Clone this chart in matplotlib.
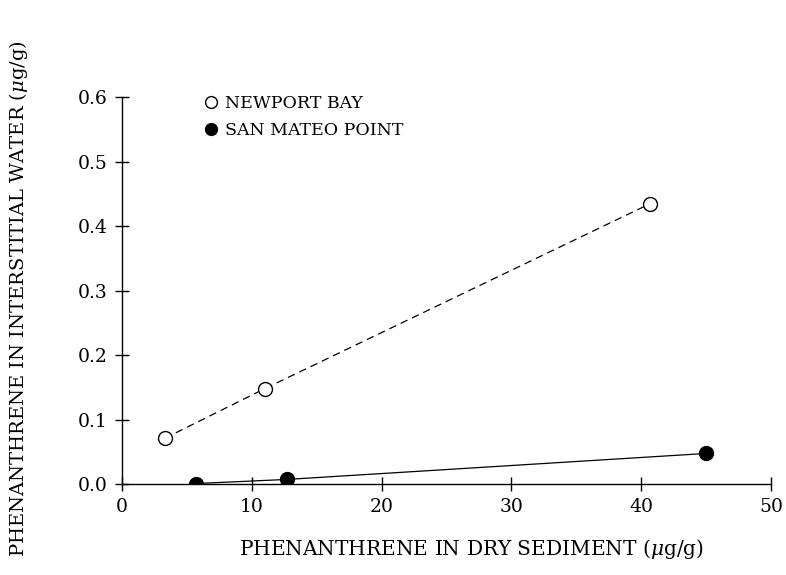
import matplotlib
matplotlib.use("Agg")
import matplotlib.pyplot as plt
from matplotlib.lines import Line2D

# phenanthrene: dry sediment (ug/g) vs interstitial water (ug/g)
newport_x = [3.3, 11.0, 40.7]
newport_y = [0.071, 0.148, 0.435]
sanmateo_x = [5.75, 12.7, 45.0]
sanmateo_y = [0.001, 0.0073, 0.0476]

x_ticks = [0, 10, 20, 30, 40, 50]
y_ticks = [0.0, 0.1, 0.2, 0.3, 0.4, 0.5, 0.6]

plt.rcParams['font.family'] = ['DejaVu Serif']
plt.rcParams['mathtext.fontset'] = 'dejavuserif'

fig = plt.figure(figsize=(7.86, 5.75), dpi=100)
ax = fig.add_axes([0.155, 0.158, 0.826, 0.673])

ax.plot(newport_x, newport_y, color='black', lw=0.9, ls=(0, (6, 4)),
        marker='o', ms=10, mfc='white', mec='black', mew=1.0)
ax.plot(sanmateo_x, sanmateo_y, color='black', lw=0.9, ls='-',
        marker='o', ms=10, mfc='black', mec='black')

ax.set_xlim(0, 50)
ax.set_ylim(0, 0.6)
ax.set_xticks(x_ticks)
ax.set_yticks(y_ticks)
ax.set_xticklabels([str(v) for v in x_ticks])
ax.set_yticklabels([f'{v:.1f}' for v in y_ticks])
ax.tick_params(direction='inout', length=10, width=1, labelsize=13.5, pad=5)

for side in ['top', 'right']:
    ax.spines[side].set_visible(False)
for side in ['left', 'bottom']:
    ax.spines[side].set_linewidth(1)

fig.text(0.60, 0.045, r'PHENANTHRENE IN DRY SEDIMENT ($\mu$g/g)',
         fontsize=14.5, ha='center', va='center')
fig.text(0.023, 0.48, r'PHENANTHRENE IN INTERSTITIAL WATER ($\mu$g/g)',
         fontsize=14, ha='center', va='center', rotation=90)

# legend shows markers only, no line segment
handles = [
    Line2D([], [], ls='none', marker='o', ms=8.5, mfc='white', mec='black', mew=1.0),
    Line2D([], [], ls='none', marker='o', ms=8.5, mfc='black', mec='black'),
]
ax.legend(handles, ['NEWPORT BAY', 'SAN MATEO POINT'],
          loc='upper left', bbox_to_anchor=(0.1, 1.045), frameon=False,
          handlelength=1.0, handletextpad=0.3, labelspacing=0.55, fontsize=12.5)

fig.savefig('out.png', dpi=100)
